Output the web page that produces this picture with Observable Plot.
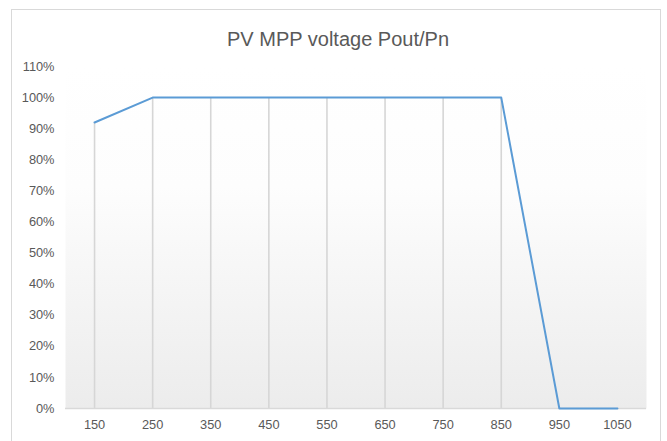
<!DOCTYPE html>
<html>
<head>
<meta charset="utf-8">
<script src="https://cdn.jsdelivr.net/npm/d3@7"></script>
<script src="https://cdn.jsdelivr.net/npm/@observablehq/plot@0.6"></script>
<style>
  html, body { margin: 0; padding: 0; background: #fff; overflow: hidden; }
  #wrap { position: relative; width: 667px; height: 441px; }
  #border { position: absolute; left: 11px; top: 9px; width: 650px; height: 460px; border: 1px solid #d9d9d9; box-sizing: border-box; pointer-events: none; }
  #chart { position: absolute; left: 0; top: 0; }
</style>
</head>
<body>
<div id="wrap"><div id="chart"></div><div id="border"></div></div>
<script>
const title = "PV MPP voltage Pout/Pn";
const voltages = [150, 250, 350, 450, 550, 650, 750, 850, 950, 1050];
const pout = [0.92, 1.00, 1.00, 1.00, 1.00, 1.00, 1.00, 1.00, 0.00, 0.00];
const yTicks = [0, 0.1, 0.2, 0.3, 0.4, 0.5, 0.6, 0.7, 0.8, 0.9, 1.0, 1.1];

const data = voltages.map((v, i) => ({v, p: pout[i]}));
const font = "'Liberation Sans', Arial, sans-serif";

const plot = Plot.plot({
  width: 667,
  height: 441,
  marginLeft: 65,
  marginRight: 21,
  marginTop: 66,
  marginBottom: 33,
  style: {fontFamily: font, fontSize: "12.8px", color: "#595959", background: "transparent", overflow: "visible"},
  x: {domain: [100, 1100], ticks: voltages, tickFormat: d => String(d), tickSize: 0, tickPadding: 11, label: null},
  y: {domain: [0, 1.1], ticks: yTicks, tickFormat: d => Math.round(d * 100) + "%", tickSize: 0, tickPadding: 11, label: null},
  marks: [
    Plot.frame({fill: "url(#bggrad)", stroke: null}),
    Plot.ruleX(data, {x: "v", y1: 0, y2: "p", stroke: "#d6d6d6", strokeWidth: 1.6}),
    Plot.ruleY([0], {stroke: "#d9d9d9", strokeWidth: 1.5}),
    Plot.line(data, {x: "v", y: "p", stroke: "#5b9bd5", strokeWidth: 2}),
    Plot.text([title], {frameAnchor: "top", dx: -18, dy: -35, fontSize: 20, fill: "#595959", fontFamily: font})
  ]
});

const defs = d3.select(plot).insert("defs", ":first-child");
const g = defs.append("linearGradient").attr("id", "bggrad").attr("x1", 0).attr("y1", 0).attr("x2", 0).attr("y2", 1);
g.append("stop").attr("offset", "0%").attr("stop-color", "#ffffff");
g.append("stop").attr("offset", "35%").attr("stop-color", "#fdfdfd");
g.append("stop").attr("offset", "100%").attr("stop-color", "#ececec");

document.getElementById("chart").appendChild(plot);
</script>
</body>
</html>
